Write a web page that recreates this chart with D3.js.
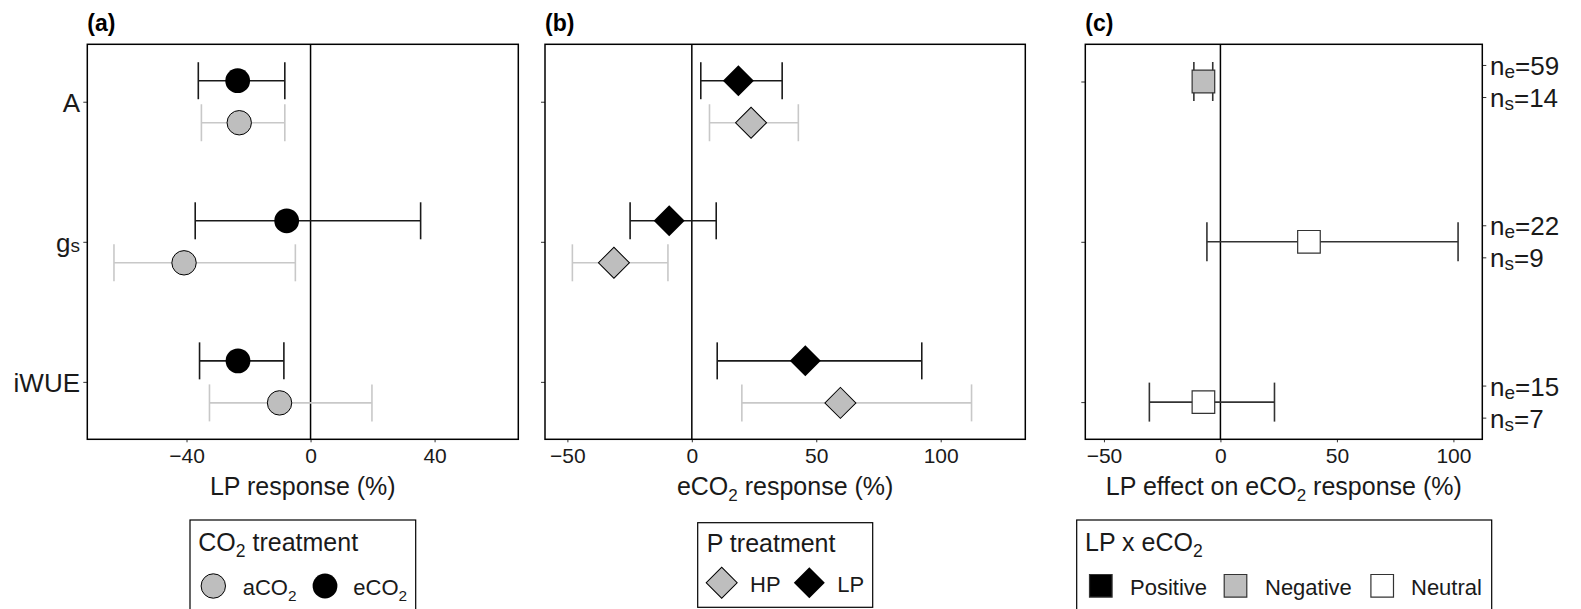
<!DOCTYPE html>
<html>
<head>
<meta charset="utf-8">
<script src="https://cdn.jsdelivr.net/npm/d3@7"></script>
<style>
  body { margin: 0; background: #fff; }
  svg { font-family: "Liberation Sans", Arial, sans-serif; }
</style>
</head>
<body>
<svg id="chart" width="1581" height="609"></svg>
<script>
  var categories = ["A", "gs", "iWUE"];

  // (a) LP response, by CO2 treatment
  var lpEco2Mean = [-23.5, -7.7, -23.4];
  var lpEco2Low  = [-36.2, -37.2, -35.8];
  var lpEco2High = [-8.3, 35.5, -8.6];
  var lpAco2Mean = [-23, -40.8, -10];
  var lpAco2Low  = [-35.2, -63.4, -32.6];
  var lpAco2High = [-8.3, -4.9, 19.8];

  // (b) eCO2 response, by P treatment
  var co2LpMean = [18.7, -9.1, 45.6];
  var co2LpLow  = [3.6, -24.8, 10.2];
  var co2LpHigh = [36.3, 9.8, 92.4];
  var co2HpMean = [23.8, -31.3, 59.7];
  var co2HpLow  = [7.1, -48, 20.1];
  var co2HpHigh = [42.8, -9.6, 112.4];

  // (c) interaction
  var intMean = [-7.3, 38, -7.3];
  var intLow  = [-11.4, -5.8, -30.5];
  var intHigh = [-3.3, 102, 23.2];
  var intSign = ["Negative", "Neutral", "Neutral"];
  var nEffects = [59, 22, 15];
  var nStudies = [14, 9, 7];

  var ticksA = [-40, 0, 40];
  var ticksB = [-50, 0, 50, 100];
  var ticksC = [-50, 0, 50, 100];

  var signColors = {Positive: "#000000", Negative: "#bebebe", Neutral: "#ffffff"};
  var grey = "#bebebe";
  var greyLine = "#c8c8c8";

  var svg = d3.select("#chart");
  var top_y = 44.3, bottom_y = 439.3;

  function make_series(mean, low, high) {
    var out = [];
    for (var i = 0; i < categories.length; i++) {
      out.push({cat: categories[i], mean: mean[i], low: low[i], high: high[i], idx: i});
    }
    return out;
  }

  function draw_frame(left, right, domain, ticks, padding, title, label, subAfter, subText) {
    var x = d3.scaleLinear().domain(domain).range([left, right]);
    var y = d3.scalePoint().domain(categories).range([top_y, bottom_y]).padding(padding);
    var g = svg.append("g");

    g.append("line")
      .attr("x1", x(0)).attr("x2", x(0))
      .attr("y1", top_y).attr("y2", bottom_y)
      .attr("stroke", "#000").attr("stroke-width", 1.5);

    var ax = g.append("g")
      .attr("transform", "translate(0," + bottom_y + ")")
      .call(d3.axisBottom(x).tickValues(ticks).tickSize(3).tickPadding(6));
    ax.select(".domain").remove();
    ax.selectAll("text").attr("font-size", 21).attr("fill", "#1a1a1a").attr("font-family", null);
    ax.selectAll("line").attr("stroke", "#333");

    var ay = g.append("g")
      .attr("transform", "translate(" + left + ",0)")
      .call(d3.axisLeft(y).tickSize(4).tickFormat(""));
    ay.select(".domain").remove();
    ay.selectAll("line").attr("stroke", "#333");

    // panel letter
    g.append("text")
      .attr("x", left).attr("y", 31)
      .attr("font-size", 23).attr("font-weight", "bold")
      .text(label);

    // axis title
    var t = g.append("text")
      .attr("x", (left + right) / 2).attr("y", 495)
      .attr("text-anchor", "middle").attr("font-size", 25).attr("fill", "#1a1a1a");
    t.append("tspan").text(title[0]);
    if (subAfter) {
      t.append("tspan").attr("font-size", 17).attr("dy", 6).text(subText);
      t.append("tspan").attr("dy", -6).text(title[1]);
    }

    return {g: g, x: x, y: y};
  }

  function error_bars(p, data, yOff, color, width, half) {
    var gb = p.g.append("g");
    gb.selectAll(".hbar").data(data).join("line")
      .attr("x1", function(d) { return p.x(d.low); })
      .attr("x2", function(d) { return p.x(d.high); })
      .attr("y1", function(d) { return p.y(d.cat) + yOff; })
      .attr("y2", function(d) { return p.y(d.cat) + yOff; })
      .attr("stroke", color).attr("stroke-width", width);
    ["low", "high"].forEach(function(k) {
      gb.selectAll(".w" + k).data(data).join("line")
        .attr("x1", function(d) { return p.x(d[k]); })
        .attr("x2", function(d) { return p.x(d[k]); })
        .attr("y1", function(d) { return p.y(d.cat) + yOff - half; })
        .attr("y2", function(d) { return p.y(d.cat) + yOff + half; })
        .attr("stroke", color).attr("stroke-width", width);
    });
  }

  function frame_box(left, right) {
    svg.append("rect")
      .attr("x", left).attr("y", top_y)
      .attr("width", right - left).attr("height", bottom_y - top_y)
      .attr("fill", "none").attr("stroke", "#000").attr("stroke-width", 1.5);
  }

  var diamond = d3.symbol().type(d3.symbolSquare).size(480);
  var square = d3.symbol().type(d3.symbolSquare).size(510);

  // ---------- panel (a)
  var pa = draw_frame(87.3, 518.3, [-72, 67], ticksA, 0.41, ["LP response (%)"], "(a)", false);
  var dodgeA = pa.y.step() * 0.15;
  var eco2 = make_series(lpEco2Mean, lpEco2Low, lpEco2High);
  var aco2 = make_series(lpAco2Mean, lpAco2Low, lpAco2High);
  error_bars(pa, eco2, -dodgeA, "#1a1a1a", 1.6, 18.5);
  error_bars(pa, aco2, dodgeA, greyLine, 1.6, 18.5);
  pa.g.selectAll(".pe").data(eco2).join("circle")
    .attr("cx", function(d) { return pa.x(d.mean); })
    .attr("cy", function(d) { return pa.y(d.cat) - dodgeA; })
    .attr("r", 12.4).attr("fill", "#000");
  pa.g.selectAll(".pa").data(aco2).join("circle")
    .attr("cx", function(d) { return pa.x(d.mean); })
    .attr("cy", function(d) { return pa.y(d.cat) + dodgeA; })
    .attr("r", 12.2).attr("fill", grey).attr("stroke", "#000").attr("stroke-width", 1);

  // category labels
  categories.forEach(function(c) {
    var t = pa.g.append("text")
      .attr("x", 80).attr("y", pa.y(c) + 10)
      .attr("text-anchor", "end").attr("font-size", 26).attr("fill", "#1a1a1a");
    if (c === "gs") {
      t.append("tspan").text("g");
      t.append("tspan").attr("font-size", 19).text("s");
    } else {
      t.text(c);
    }
  });
  frame_box(87.3, 518.3);

  // ---------- panel (b)
  var pb = draw_frame(545, 1025.3, [-59, 134], ticksB, 0.41, ["eCO", " response (%)"], "(b)", true, "2");
  var dodgeB = pb.y.step() * 0.15;
  var lp = make_series(co2LpMean, co2LpLow, co2LpHigh);
  var hp = make_series(co2HpMean, co2HpLow, co2HpHigh);
  error_bars(pb, lp, -dodgeB, "#1a1a1a", 1.6, 18.5);
  error_bars(pb, hp, dodgeB, greyLine, 1.6, 18.5);
  pb.g.selectAll(".dl").data(lp).join("path")
    .attr("d", diamond)
    .attr("transform", function(d) {
      return "translate(" + pb.x(d.mean) + "," + (pb.y(d.cat) - dodgeB) + ") rotate(45)";
    })
    .attr("fill", "#000");
  pb.g.selectAll(".dh").data(hp).join("path")
    .attr("d", diamond)
    .attr("transform", function(d) {
      return "translate(" + pb.x(d.mean) + "," + (pb.y(d.cat) + dodgeB) + ") rotate(45)";
    })
    .attr("fill", grey).attr("stroke", "#000").attr("stroke-width", 1);
  frame_box(545, 1025.3);

  // ---------- panel (c)
  var pc = draw_frame(1085.3, 1482.3, [-58, 112.4], ticksC, 0.232, ["LP effect on eCO", " response (%)"], "(c)", true, "2");
  var inter = make_series(intMean, intLow, intHigh);
  error_bars(pc, inter, 0, "#333", 1.6, 19.5);
  pc.g.selectAll(".sq").data(inter).join("path")
    .attr("d", square)
    .attr("transform", function(d) { return "translate(" + pc.x(d.mean) + "," + pc.y(d.cat) + ")"; })
    .attr("fill", function(d) { return signColors[intSign[d.idx]]; })
    .attr("stroke", "#333").attr("stroke-width", 1.2);

  // sample sizes on the right
  var offC = pc.y.step() * 0.1;
  inter.forEach(function(d) {
    var rows = [["e", nEffects[d.idx], -offC], ["s", nStudies[d.idx], offC]];
    rows.forEach(function(r) {
      var yy = pc.y(d.cat) + r[2];
      pc.g.append("line")
        .attr("x1", 1482.3).attr("x2", 1486.3)
        .attr("y1", yy).attr("y2", yy)
        .attr("stroke", "#333");
      var t = pc.g.append("text")
        .attr("x", 1490).attr("y", yy + 9.5)
        .attr("font-size", 26).attr("fill", "#1a1a1a");
      t.append("tspan").text("n");
      t.append("tspan").attr("font-size", 19).attr("dy", 3).text(r[0]);
      t.append("tspan").attr("dy", -3).text("=" + r[1]);
    });
  });
  frame_box(1085.3, 1482.3);

  // ---------- legends
  function legend_box(x0, x1, y0, y1) {
    svg.append("rect")
      .attr("x", x0).attr("y", y0).attr("width", x1 - x0).attr("height", y1 - y0)
      .attr("fill", "#fff").attr("stroke", "#000").attr("stroke-width", 1.2);
  }

  function sub_text(x, y, size, parts) {
    var t = svg.append("text").attr("x", x).attr("y", y).attr("font-size", size).attr("fill", "#1a1a1a");
    t.append("tspan").text(parts[0]);
    if (parts.length > 1) {
      t.append("tspan").attr("font-size", size * 0.7).attr("dy", size * 0.25).text(parts[1]);
      if (parts[2]) t.append("tspan").attr("dy", -size * 0.25).text(parts[2]);
    }
    return t;
  }

  // legend (a)
  legend_box(190, 415.7, 520, 615);
  sub_text(198.3, 551, 25, ["CO", "2", " treatment"]);
  svg.append("circle").attr("cx", 213.3).attr("cy", 586).attr("r", 12.2)
    .attr("fill", grey).attr("stroke", "#000").attr("stroke-width", 1);
  sub_text(242.7, 595, 22, ["aCO", "2"]);
  svg.append("circle").attr("cx", 325).attr("cy", 586).attr("r", 12.4).attr("fill", "#000");
  sub_text(353.3, 595, 22, ["eCO", "2"]);

  // legend (b)
  legend_box(697.7, 872.7, 522.7, 607.3);
  sub_text(706.7, 551.7, 25, ["P treatment"]);
  svg.append("path").attr("d", diamond)
    .attr("transform", "translate(721.7,582.7) rotate(45)")
    .attr("fill", grey).attr("stroke", "#000").attr("stroke-width", 1);
  sub_text(750, 591.7, 22, ["HP"]);
  svg.append("path").attr("d", diamond)
    .attr("transform", "translate(809.3,582.7) rotate(45)")
    .attr("fill", "#000");
  sub_text(837.3, 591.7, 22, ["LP"]);

  // legend (c)
  legend_box(1076.7, 1491.7, 520, 615);
  sub_text(1085, 551, 25, ["LP x eCO", "2"]);
  var signItems = [["Positive", 1100.8, 1130], ["Negative", 1235.5, 1265], ["Neutral", 1382.2, 1411]];
  signItems.forEach(function(s) {
    svg.append("path").attr("d", square)
      .attr("transform", "translate(" + s[1] + ",585.8)")
      .attr("fill", signColors[s[0]]).attr("stroke", "#333").attr("stroke-width", 1.2);
    sub_text(s[2], 595, 22, [s[0]]);
  });
</script>
</body>
</html>
